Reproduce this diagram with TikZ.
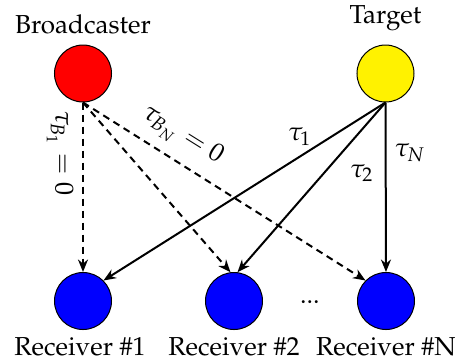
\documentclass[tikz,border=0pt]{standalone}
\usepackage[T1]{fontenc}
\usepackage{mathpazo}
\usetikzlibrary{arrows.meta}
\begin{document}
\begin{tikzpicture}[x=0.4pt,y=-0.4pt, font=\fontsize{10.4}{12}\selectfont,
  dot/.style={circle, draw=black, line width=0.4pt, minimum size=22.8pt, inner sep=0pt},
  sarrow/.style={-{Stealth[length=5pt,width=4pt]}, line width=0.8pt},
  darrow/.style={sarrow, dash pattern=on 2.8pt off 2pt}]
\useasboundingbox (0,0) rectangle (455,363);
\node[dot, fill=red] (b) at (83,73.5) {};
\node[dot, fill=yellow] (t) at (385.5,73.5) {};
\node[dot, fill=blue] (r1) at (83,301) {};
\node[dot, fill=blue] (r2) at (234,301) {};
\node[dot, fill=blue] (rN) at (386,301) {};
\node (bl) at (83,24) {Broadcaster};
\node (tl) at (385.5,18) {Target};
\node (r1l) at (80,347) {Receiver \#1};
\node (r2l) at (234,347) {Receiver \#2};
\node (rNl) at (386,347) {Receiver \#N};
\node[anchor=base] (dots) at (310,303) {...};
\draw[darrow] (b.south) -- (r1.north);
\draw[darrow] (b.south) -- (r2.97);
\draw[darrow] (b.south) -- (rN.north west);
\draw[sarrow] (t.south) -- (r1.north east);
\draw[sarrow] (t.south) -- (r2.83);
\draw[sarrow] (t.south) -- (rN.north);
\node[rotate=-90] (lb1) at (60,153) {$\tau_{B_1}=0$};
\node[rotate=-32] (lbN) at (182,136) {$\tau_{B_N}=0$};
\node (l1) at (300,137) {$\tau_1$};
\node (l2) at (362,173) {$\tau_2$};
\node (lN) at (410,153) {$\tau_N$};
\end{tikzpicture}
\end{document}
